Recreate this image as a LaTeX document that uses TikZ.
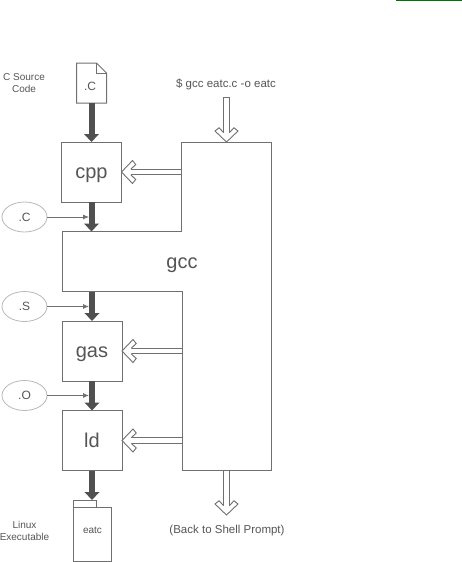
\documentclass[tikz,border=0pt]{standalone}
\usepackage{fontspec}
\setmainfont{Liberation Sans}
\usetikzlibrary{arrows.meta,shapes.geometric}
\definecolor{ln}{HTML}{707070}
\definecolor{txt}{HTML}{555555}
\definecolor{dark}{HTML}{505050}
\definecolor{lite}{HTML}{B8B8B8}
\pgfdeclarearrow{
  name=HollowHead,
  setup code={%
    \pgfarrowssettipend{0pt}%
    \pgfarrowssetlineend{-9pt}%
    \pgfarrowssetvisualbackend{-9pt}%
    \pgfarrowssetbackend{-14.2pt}%
    \pgfarrowshullpoint{0pt}{0pt}%
    \pgfarrowshullpoint{-14.2pt}{11.5pt}%
    \pgfarrowshullpoint{-14.2pt}{-11.5pt}%
  },
  drawing code={%
    \pgfsetinnerlinewidth{0pt}%
    \pgfsetlinewidth{.9pt}%
    \pgfsetmiterjoin
    \pgfsetstrokecolor{ln}%
    \pgfsetfillcolor{white}%
    \pgfpathmoveto{\pgfqpoint{-9.3pt}{2.75pt}}%
    \pgfpathlineto{\pgfqpoint{-14.2pt}{7.5pt}}%
    \pgfpathlineto{\pgfqpoint{-11pt}{11.5pt}}%
    \pgfpathlineto{\pgfqpoint{0pt}{0pt}}%
    \pgfpathlineto{\pgfqpoint{-11pt}{-11.5pt}}%
    \pgfpathlineto{\pgfqpoint{-14.2pt}{-7.5pt}}%
    \pgfpathlineto{\pgfqpoint{-9.3pt}{-2.75pt}}%
    \pgfusepathqfillstroke
  },
}
\tikzset{
  x=1pt,y=-1pt,
  every node/.style={text=txt,inner sep=0pt,outer sep=0pt},
  stage/.style={draw=ln,line width=1pt,fill=white,minimum width=60pt,minimum height=60pt,font=\fontsize{20}{24}\selectfont,text height=17pt,text depth=4pt},
  gccbody/.style={draw=ln,line width=1pt,fill=white},
  oval/.style={draw=lite,line width=.8pt,ellipse,minimum width=45pt,minimum height=30pt,font=\fontsize{12}{14}\selectfont},
  note/.style={font=\fontsize{10}{12}\selectfont,align=center},
  cmd/.style={font=\fontsize{11.5}{13}\selectfont},
  flow/.style={draw=dark,line width=6pt,-{Triangle[length=8pt,width=14.5pt]}},
  thin/.style={draw=ln,line width=.8pt,-{Latex[length=6pt,width=5pt]}},
  hollow/.style={draw=ln,line width=.9pt,double=white,double distance=4.6pt,-{HollowHead},shorten <=.5pt},
}
\begin{document}
\begin{tikzpicture}
\useasboundingbox (0,0) rectangle (462,562);
\fill[fill=green!45!black] (396,0) rectangle (462,1.2);
% gcc outline
\path[gccbody] (181.5,142) -- (271.5,142) -- (271.5,470) -- (182,470) -- (182,291.5) -- (62,291.5) -- (62,231.5) -- (181.5,231.5) -- cycle;
\node[font=\fontsize{20}{24}\selectfont] (gcc) at (182,265) {gcc};
% stages
\node[stage] (cpp) at (91.5,172) {cpp};
\node[stage] (gas) at (92,351) {gas};
\node[stage] (ld) at (92,440.5) {ld};
\coordinate (gcctop) at (226.5,142);
\coordinate (gccbot) at (226.5,470);
\coordinate (gcccpp) at (181.5,172);
\coordinate (gccgas) at (182,351);
\coordinate (gccld) at (182,440.5);
\coordinate (gccintop) at (91.5,231.5);
\coordinate (gccoutbot) at (92,291.5);
\coordinate (cmdtop) at (226.5,97.5);
\coordinate (prompttop) at (226.5,515);
% source doc
\draw[draw=ln,line width=1pt,fill=white] (76.5,63) -- (96.5,63) -- (106.5,73) -- (106.5,103) -- (76.5,103) -- cycle;
\draw[draw=ln,line width=.8pt] (96.5,63) -- (96.5,73) -- (106.5,73);
\coordinate (docbot) at (91.5,103);
\node[font=\fontsize{12}{14}\selectfont] (doclabel) at (90,86) {.C};
% executable
\draw[draw=ln,line width=1pt,fill=white] (73.5,507.5) rectangle (111,561);
\draw[draw=ln,line width=1pt,fill=white] (73.5,500) rectangle (96.5,507.5);
\coordinate (exetop) at (92,500);
\node[font=\fontsize{10}{12}\selectfont] (exelabel) at (92.5,530) {eatc};
% notes
\node[note] (srcnote) at (24,83) {C Source\\Code};
\node[note] (linuxnote) at (24.5,530.5) {Linux\\Executable};
\node[cmd] (cmd) at (226,84) {\$ gcc eatc.c -o eatc};
\node[cmd] (prompt) at (227,531) {(Back to Shell Prompt)};
% ovals
\node[oval] (c2) at (24.5,217) {.C};
\node[oval] (s2) at (24.5,306.5) {.S};
\node[oval] (o2) at (24.5,395.5) {.O};
% thick flow
\draw[flow] (docbot) -- (cpp.north);
\draw[flow] (cpp.south) -- (gccintop);
\draw[flow] (gccoutbot) -- (gas.north);
\draw[flow] (gas.south) -- (ld.north);
\draw[flow] (ld.south) -- (exetop);
% thin inputs
\coordinate (cin) at (89,217);
\coordinate (sin) at (89,306.5);
\coordinate (oin) at (89,395.5);
\draw[thin] (c2.east) -- (cin);
\draw[thin] (s2.east) -- (sin);
\draw[thin] (o2.east) -- (oin);
% hollow arrows
\draw[hollow] (cmdtop) -- (gcctop);
\draw[draw=ln,line width=.9pt] ([xshift=-3.2pt]cmdtop) -- ([xshift=3.2pt]cmdtop);
\draw[hollow] (gcccpp) -- (cpp.east);
\draw[hollow] (gccgas) -- (gas.east);
\draw[hollow] (gccld) -- (ld.east);
\draw[hollow] (gccbot) -- (prompttop);
\end{tikzpicture}
\end{document}
